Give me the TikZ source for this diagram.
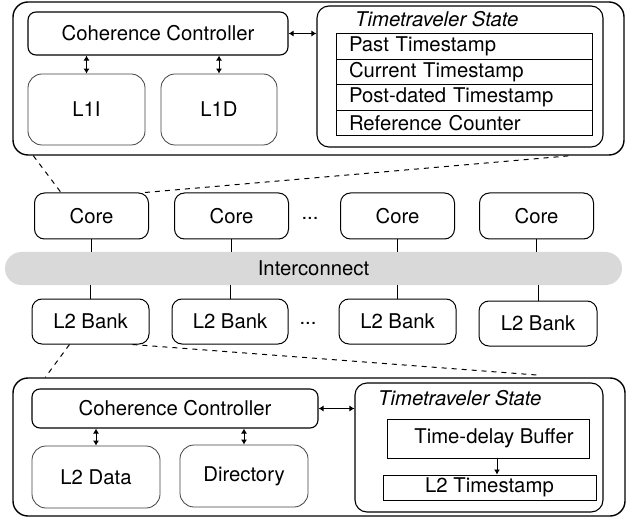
\documentclass[tikz,border=0pt]{standalone}
\usepackage{fontspec}
\setmainfont{TeX Gyre Heros}
\usetikzlibrary{arrows.meta, calc}

\begin{document}
\begin{tikzpicture}[x=1pt, y=-1pt,
    font=\fontsize{20.3}{24}\selectfont,
    outer/.style={draw, line width=1.4pt, rounded corners=15pt, inner sep=0pt},
    ctrl/.style={draw, line width=1.1pt, rounded corners=8pt, inner sep=0pt},
    cache/.style={draw=black!75, line width=0.8pt, rounded corners=14pt, inner sep=0pt},
    unit/.style={draw, line width=1pt, rounded corners=10pt, inner sep=0pt, minimum width=114pt, minimum height=46pt},
    field/.style={draw, line width=1pt, inner sep=0pt},
    row/.style={field, inner xsep=13pt, text width=230pt, align=left, minimum height=25.5pt},
    link/.style={line width=0.9pt, {Latex[length=5pt,width=6pt]}-{Latex[length=5pt,width=6pt]}},
    zoomline/.style={line width=1pt, dash pattern=on 5pt off 5pt}]
    \useasboundingbox (0,0) rectangle (628,518);

    % private cache
    \node[outer, minimum width=611pt, minimum height=153pt] (topbox) at (318.5,78.5) {};
    \node[ctrl, minimum width=260pt, minimum height=43pt] (cc1) at (158,33.5) {Coherence Controller};
    \node[cache, minimum width=117pt, minimum height=71pt] (l1i) at (86.5,109.5) {L1I};
    \node[cache, minimum width=116pt, minimum height=71pt] (l1d) at (219,109.5) {L1D};
    \node[ctrl, rounded corners=12pt, minimum width=286pt, minimum height=141pt] (ts1) at (460,76.5) {};
    \node[anchor=base west, inner sep=0pt] (ts1title) at (355,27) {\itshape Timetraveler State};
    \node[row] (past) at (464,46.75) {Past Timestamp};
    \node[row] (curr) at (464,72.25) {Current Timestamp};
    \node[row] (post) at (464,97.75) {Post-dated Timestamp};
    \node[row] (refc) at (464,123.25) {Reference Counter};

    \draw[link] (cc1.east) -- (cc1.east -| ts1.west);
    \draw[link] (l1i.north) -- (l1i.north |- cc1.south);
    \draw[link] (l1d.north) -- (l1d.north |- cc1.south);

    % cores, interconnect, banks
    \node[unit] (core1) at (91.5,216) {Core};
    \node[unit] (core2) at (231.5,216) {Core};
    \node (dots1) at (310,218) {...};
    \node[unit] (core3) at (397.5,216) {Core};
    \node[unit] (core4) at (536.5,216) {Core};

    \node[fill=black!15, rounded corners=16.5pt, minimum width=617pt, minimum height=33pt, inner sep=0pt] (ic) at (313.5,268.5) {Interconnect};

    \node[unit, minimum width=117pt, minimum height=45pt] (bank1) at (90.5,321.5) {L2 Bank};
    \node[unit, minimum width=116pt, minimum height=45pt] (bank2) at (230,321.5) {L2 Bank};
    \node (dots2) at (308,323) {...};
    \node[unit, minimum width=117pt, minimum height=45pt] (bank3) at (397.5,321.5) {L2 Bank};
    \node[unit, minimum width=118pt, minimum height=45pt] (bank4) at (538,323.5) {L2 Bank};

    \foreach \c in {core1,core2,core3,core4}
        \draw[line width=0.9pt] (\c.south) -- (\c.south |- ic.north);
    \foreach \b in {bank1,bank2,bank3,bank4}
        \draw[line width=0.9pt] (\b.north) -- (\b.north |- ic.south);

    % L2 bank detail
    \node[outer, minimum width=612pt, minimum height=138pt] (botbox) at (319,447) {};
    \node[ctrl, minimum width=286pt, minimum height=39pt] (cc2) at (175,408.5) {Coherence Controller};
    \node[cache, minimum width=128pt, minimum height=62pt] (l2data) at (96,477) {L2 Data};
    \node[cache, minimum width=128pt, minimum height=62pt] (dir) at (244,476) {Directory};
    \node[ctrl, rounded corners=12pt, minimum width=248pt, minimum height=129pt] (ts2) at (479,447.5) {};
    \node[anchor=base west, inner sep=0pt] (ts2title) at (378,405) {\itshape Timetraveler State};
    \node[field, minimum width=202pt, minimum height=39pt] (tdb) at (488,438.5) {\hspace*{12pt}Time-delay Buffer};
    \node[field, minimum width=213pt, minimum height=25pt] (l2ts) at (489.5,487.5) {L2 Timestamp};

    \draw[link] (cc2.east) -- (cc2.east -| ts2.west);
    \draw[link] (l2data.north) -- (l2data.north |- cc2.south);
    \draw[link] (dir.north) -- (dir.north |- cc2.south);
    \draw[line width=0.9pt, -{Latex[length=5pt,width=6pt]}] ([xshift=9pt]tdb.south) -- ([xshift=9pt]tdb.south |- l2ts.north);

    % zoom lines
    \draw[zoomline] ([xshift=21pt]topbox.south west) -- ([xshift=27pt]core1.north west);
    \draw[zoomline] ([xshift=-4pt]core1.north east) -- ([xshift=-54pt]topbox.south east);
    \draw[zoomline] ([xshift=38pt]bank1.south west) -- ([xshift=33pt]botbox.north west);
    \draw[zoomline] ([xshift=-17pt]bank1.south east) -- ([xshift=-85pt,yshift=2pt]botbox.north east);
\end{tikzpicture}
\end{document}
